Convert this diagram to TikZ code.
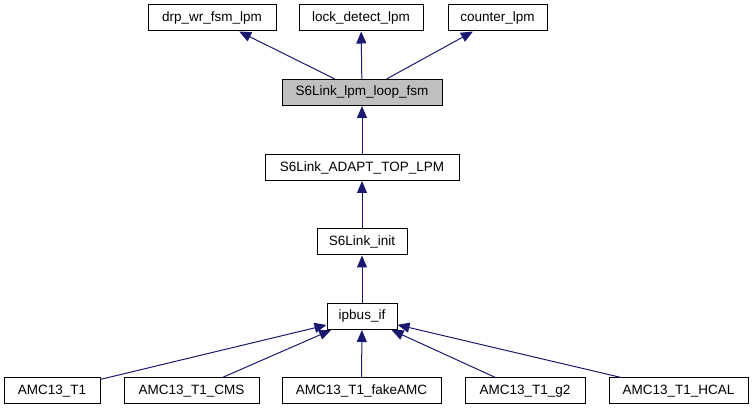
\documentclass[tikz,border=0pt]{standalone}
\usepackage{fontspec}
\setmainfont{Liberation Sans}
\usetikzlibrary{arrows.meta}
\definecolor{midnight}{RGB}{25, 25, 112}
\definecolor{nodegray}{RGB}{191, 191, 191}

\begin{document}
\begin{tikzpicture}[x=1pt, y=-1pt,
    box/.style={draw=black, fill=white, line width=1pt, minimum height=26pt,
                inner sep=0pt, font=\fontsize{13.5}{16}\selectfont},
    edge/.style={draw=midnight, line width=1pt,
                 -{Triangle[length=12pt, width=10pt]}}]
            % Frame to ensure alignment:
            \useasboundingbox (0, 0) rectangle (753, 411);
            % Top row
            \node[box, minimum width=128pt] (drp)  at (212.0,  18.0) {drp\_wr\_fsm\_lpm};
            \node[box, minimum width=124pt] (lock) at (361.0,  18.0) {lock\_detect\_lpm};
            \node[box, minimum width= 99pt] (cnt)  at (497.5,  18.0) {counter\_lpm};
            % Chain
            \node[box, minimum width=160pt, fill=nodegray] (loop) at (362.0,  92.5) {S6Link\_lpm\_loop\_fsm};
            \node[box, minimum width=194pt] (adapt) at (362.0, 167.5) {S6Link\_ADAPT\_TOP\_LPM};
            \node[box, minimum width= 90pt] (init)  at (362.0, 242.0) {S6Link\_init};
            \node[box, minimum width= 70pt] (ipbus) at (362.0, 316.5) {ipbus\_if};
            % Bottom row
            \node[box, minimum width= 96pt] (t1)    at ( 52.0, 391.0) {AMC13\_T1};
            \node[box, minimum width=135pt] (cms)   at (191.5, 391.0) {AMC13\_T1\_CMS};
            \node[box, minimum width=159pt] (fake)  at (361.5, 391.0) {AMC13\_T1\_fakeAMC};
            \node[box, minimum width=120pt] (gtwo)  at (525.0, 391.0) {AMC13\_T1\_g2};
            \node[box, minimum width=139pt] (hcal)  at (678.5, 391.0) {AMC13\_T1\_HCAL};
            % Edges
            \draw[edge] (loop)  -- (drp);
            \draw[edge] (loop)  -- (lock);
            \draw[edge] (loop)  -- (cnt);
            \draw[edge] (adapt) -- (loop);
            \draw[edge] (init)  -- (adapt);
            \draw[edge] (ipbus) -- (init);
            \draw[edge] (t1)    -- (ipbus);
            \draw[edge] (cms)   -- (ipbus);
            \draw[edge] (fake)  -- (ipbus);
            \draw[edge] (gtwo)  -- (ipbus);
            \draw[edge] (hcal)  -- (ipbus);
        \end{tikzpicture}
\end{document}
